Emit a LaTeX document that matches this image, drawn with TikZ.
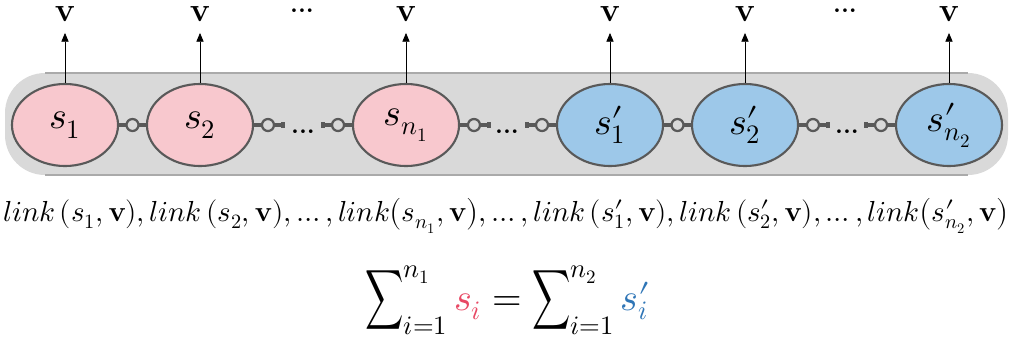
\documentclass[tikz,border=0pt]{standalone}
\usepackage{amsmath}
\usepackage{mathtools}
\usepackage{unicode-math}
\usetikzlibrary{arrows.meta, positioning, shapes.geometric}

\definecolor{bandgray}{RGB}{217,217,217}
\definecolor{bandline}{RGB}{170,170,170}
\definecolor{edgegray}{RGB}{89,89,89}
\definecolor{pinkfill}{RGB}{248,200,206}
\definecolor{bluefill}{RGB}{157,200,233}
\definecolor{sumred}{RGB}{232,72,100}
\definecolor{sumblue}{RGB}{46,117,182}

% a narrow, tall sum with side scripts
\newcommand{\tallsum}{\mathop{\scalebox{0.7}[1.1]{$\displaystyle\sum$}}\nolimits}
% prime set close to the letter, over its subscript
\newcommand{\sprime}[1]{s\mathrlap{\prime}_{#1}}

\begin{document}
\begin{tikzpicture}[
    x=0.025cm, y=-0.025cm,
    state/.style={ellipse, draw=edgegray, line width=1.5pt, inner sep=0pt,
        minimum width=2.65cm, minimum height=2.05cm,
        font=\fontsize{27}{30}\selectfont},
    red state/.style={state, fill=pinkfill},
    blue state/.style={state, fill=bluefill},
    chain/.style={draw=edgegray, line width=2.2pt},
    joint/.style={circle, draw=edgegray, line width=1.6pt, fill=bandgray,
        minimum size=0.3cm, inner sep=0pt},
    stub/.style={fill=edgegray, minimum width=0.1cm, minimum height=0.15cm,
        inner sep=0pt},
    up/.style={-{Triangle[length=2.2mm, width=1.8mm]}, line width=0.6pt},
    vec/.style={font=\fontsize{24}{28}\selectfont, inner sep=0pt},
    dots/.style={font=\fontsize{18}{20}\selectfont\bfseries, inner sep=0pt}
]
\useasboundingbox (0,0) rectangle (1012,350);

% grey band behind the chain
\fill[bandgray, rounded corners=1cm] (5,73) rectangle (1008,175);
\draw[bandline, line width=0.8pt] (45,73) -- (968,73);
\draw[bandline, line width=0.8pt] (45,175) -- (968,175);

\node[red state] (s1) at (65,125) {$s_1$};
\node[red state] (s2) at (200,125) {$s_2$};
\node[red state] (sn1) at (406,125) {$s_{n_1}$};
\node[blue state] (t1) at (610,125) {$\sprime{1}$};
\node[blue state] (t2) at (745,125) {$\sprime{2}$};
\node[blue state] (tn2) at (949,125) {$\sprime{n_2}$};

\node[dots] (d1) at (303,132) {...};
\node[dots] (d2) at (507,132) {...};
\node[dots] (d3) at (847,132) {...};

% links of the chain
\draw[chain] (s1) -- node[joint] {} (s2);
\draw[chain] (t1) -- node[joint] {} (t2);
\foreach \s/\d in {s2/29, sn1/29, t2/29, sn1/-29, t1/-29, tn2/-29} {
    \ifnum\d>0
        \draw[chain] (\s.east) -- node[pos=0.48, joint] {} ++(\d,0) node[stub] {};
    \else
        \draw[chain] (\s.west) -- node[pos=0.48, joint] {} ++(\d,0) node[stub] {};
    \fi
}

% output vectors
\foreach \s/\n in {s1/v1, s2/v2, sn1/v3, t1/v4, t2/v5, tn2/v6} {
    \node[vec, above=1.52cm of \s.north] (\n) {$\mathbf{v}$};
    \draw[up, shorten >=0.27cm] (\s.north) -- (\n.south);
}
\node[dots] (d4) at (302,11) {...};
\node[dots] (d5) at (845,11) {...};

\node[font=\fontsize{20.6}{24}\selectfont] (links) at (506,215)
    {$link\,(s_1,\mathbf{v}), link\,(s_2,\mathbf{v}), \dots, link\bigl(s_{n_1},\mathbf{v}\bigr),
      \dots, link\,(\sprime{1},\mathbf{v}), link\,(\sprime{2},\mathbf{v}), \dots, link\bigl(\sprime{n_2},\mathbf{v}\bigr)$};

\node[font=\fontsize{27}{32}\selectfont] (sum) at (507,300)
    {$\tallsum_{i=1}^{n_1}{\color{sumred}s_i} = \tallsum_{i=1}^{n_2}{\color{sumblue}\sprime{i}}$};
\end{tikzpicture}
\end{document}
